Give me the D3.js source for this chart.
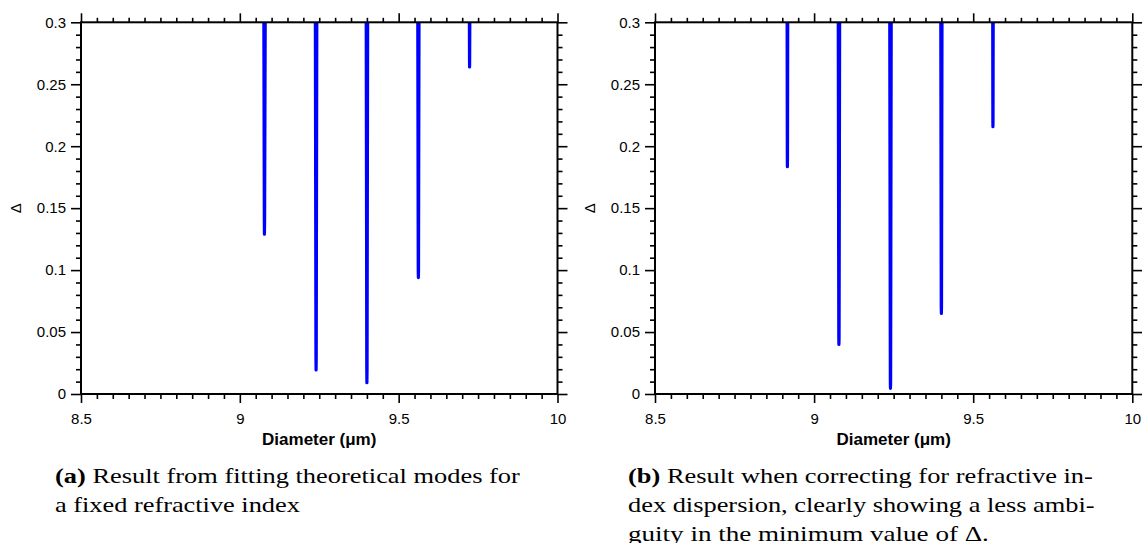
<!DOCTYPE html>
<html><head><meta charset="utf-8">
<script src="https://cdn.jsdelivr.net/npm/d3@7"></script>
<style>body{margin:0;background:#fff} svg{display:block}</style>
</head><body>
<svg id="c" width="1142" height="543"></svg>
<script>
// ---- data ----
const xDomain = [8.5, 10];
const yDomain = [0, 0.3];
const xTicks = [8.5, 9, 9.5, 10];
const xTickLabels = ["8.5", "9", "9.5", "10"];
const yTicks = [0, 0.05, 0.1, 0.15, 0.2, 0.25, 0.3];
const yTickLabels = ["0", "0.05", "0.1", "0.15", "0.2", "0.25", "0.3"];
const xMinorStep = 0.05;
const yMinorStep = 0.01;
const xLabel = "Diameter (\u03bcm)";
const yLabel = "\u0394";

// panel (a): fixed refractive index — [diameter, delta] points per dip
const spikesA = [
  [[9.0755, 0.31], [9.0771, 0.14], [9.0774, 0.129], [9.0780, 0.14], [9.0800, 0.31]],
  [[9.2377, 0.31], [9.2396, 0.03], [9.2400, 0.0194], [9.2405, 0.03], [9.2424, 0.31]],
  [[9.3978, 0.31], [9.3996, 0.02], [9.4000, 0.0091], [9.4005, 0.02], [9.4024, 0.31]],
  [[9.5601, 0.31], [9.5616, 0.10], [9.5620, 0.094], [9.5625, 0.10], [9.5641, 0.31]],
  [[9.7225, 0.31], [9.7230, 0.27], [9.7232, 0.264], [9.7235, 0.27], [9.7241, 0.31]]
];
// panel (b): corrected for refractive index dispersion
const spikesB = [
  [[8.9151, 0.31], [8.9158, 0.19], [8.9160, 0.1835], [8.9164, 0.19], [8.9171, 0.31]],
  [[9.0759, 0.31], [9.0776, 0.045], [9.0780, 0.040], [9.0785, 0.045], [9.0803, 0.31]],
  [[9.2377, 0.31], [9.2396, 0.01], [9.2400, 0.0046], [9.2405, 0.01], [9.2424, 0.31]],
  [[9.3981, 0.31], [9.3996, 0.07], [9.4000, 0.065], [9.4004, 0.07], [9.4020, 0.31]],
  [[9.5613, 0.31], [9.5618, 0.22], [9.5620, 0.2157], [9.5623, 0.22], [9.5629, 0.31]]
];

const captionA = { tag: "(a)", lines: ["Result from fitting theoretical modes for", "a fixed refractive index"] };
const captionB = { tag: "(b)", lines: ["Result when correcting for refractive in-", "dex dispersion, clearly showing a less ambi-", "guity in the minimum value of \u0394."] };

// ---- layout ----
const TOP = 22.3, BOTTOM = 394;
const panels = [
  { left: 81, right: 557.5, spikes: spikesA, cap: captionA, capX: 55, capW: [465, 245], ylabX: 16, id: "a" },
  { left: 655, right: 1132.3, spikes: spikesB, cap: captionB, capX: 628, capW: [465, 467, 361], ylabX: 590, id: "b" }
];
const capY = [482.5, 511.5, 540.5];

const svg = d3.select("#c");
const tickFont = "Liberation Sans, Arial, sans-serif";

function minorVals(dom, step, majors) {
  const n = Math.round((dom[1] - dom[0]) / step);
  const out = [];
  for (let i = 0; i <= n; i++) {
    const v = +(dom[0] + i * step).toFixed(6);
    if (!majors.some(m => Math.abs(m - v) < 1e-9)) out.push(v);
  }
  return out;
}
const xMinor = minorVals(xDomain, xMinorStep, xTicks);
const yMinor = minorVals(yDomain, yMinorStep, yTicks);

function styleAxis(g) {
  g.select(".domain").remove();
  g.selectAll(".tick line").attr("stroke", "#000").attr("stroke-width", 1.6);
  g.selectAll(".tick text").attr("fill", "#000").attr("font-family", tickFont).attr("font-size", 15);
}

panels.forEach(p => {
  const x = d3.scaleLinear().domain(xDomain).range([p.left, p.right]);
  const y = d3.scaleLinear().domain(yDomain).range([BOTTOM, TOP]);
  const g = svg.append("g");

  const xf = d => xTickLabels[xTicks.indexOf(d)];
  const yf = d => yTickLabels[yTicks.indexOf(d)];

  g.append("g").attr("transform", `translate(0,${BOTTOM})`)
    .call(d3.axisBottom(x).tickValues(xTicks).tickSize(9).tickPadding(10).tickFormat(xf)).call(styleAxis);
  g.append("g").attr("transform", `translate(0,${BOTTOM})`)
    .call(d3.axisBottom(x).tickValues(xMinor).tickSize(5).tickFormat("")).call(styleAxis);
  g.append("g").attr("transform", `translate(0,${TOP})`)
    .call(d3.axisTop(x).tickValues(xTicks).tickSize(9).tickFormat("")).call(styleAxis);
  g.append("g").attr("transform", `translate(0,${TOP})`)
    .call(d3.axisTop(x).tickValues(xMinor).tickSize(4.5).tickFormat("")).call(styleAxis);
  g.append("g").attr("transform", `translate(${p.left},0)`)
    .call(d3.axisLeft(y).tickValues(yTicks).tickSize(10).tickPadding(5).tickFormat(yf)).call(styleAxis);
  g.append("g").attr("transform", `translate(${p.left},0)`)
    .call(d3.axisLeft(y).tickValues(yMinor).tickSize(5).tickFormat("")).call(styleAxis);
  g.append("g").attr("transform", `translate(${p.right},0)`)
    .call(d3.axisRight(y).tickValues(yTicks).tickSize(10).tickFormat("")).call(styleAxis);
  g.append("g").attr("transform", `translate(${p.right},0)`)
    .call(d3.axisRight(y).tickValues(yMinor).tickSize(5).tickFormat("")).call(styleAxis);

  const cid = "clip" + p.id;
  svg.append("clipPath").attr("id", cid).append("rect")
    .attr("x", p.left).attr("y", TOP).attr("width", p.right - p.left).attr("height", BOTTOM - TOP);
  const line = d3.line().x(d => x(d[0])).y(d => y(d[1]));
  g.append("g").attr("clip-path", `url(#${cid})`)
    .selectAll("path").data(p.spikes).join("path")
    .attr("d", line).attr("fill", "none").attr("stroke", "#0000ff")
    .attr("stroke-width", 3.2).attr("stroke-linecap", "round").attr("stroke-linejoin", "round");

  g.append("rect").attr("x", p.left).attr("y", TOP).attr("width", p.right - p.left).attr("height", BOTTOM - TOP)
    .attr("fill", "none").attr("stroke", "#000").attr("stroke-width", 2);

  g.append("text").attr("x", (p.left + p.right) / 2).attr("y", 445).attr("text-anchor", "middle")
    .attr("font-family", tickFont).attr("font-weight", "bold").attr("font-size", 17).text(xLabel);
  g.append("text").attr("transform", `translate(${p.ylabX + 5},${(TOP + BOTTOM) / 2}) rotate(-90)`)
    .attr("text-anchor", "middle").attr("font-family", tickFont).attr("font-size", 15).text(yLabel);

  p.cap.lines.forEach((ln, i) => {
    const t = g.append("text").attr("x", 0).attr("y", 0)
      .attr("font-family", "Liberation Serif, Times New Roman, serif").attr("font-size", 22).attr("fill", "#000");
    if (i === 0) {
      t.append("tspan").attr("font-weight", "bold").text(p.cap.tag);
      t.append("tspan").text(" " + ln);
    } else {
      t.text(ln);
    }
    const w = t.node().getComputedTextLength();
    const sx = p.capW[i] / w;
    t.attr("transform", `translate(${p.capX},${capY[i]}) scale(${sx},1)`);
  });
});
</script>
</body></html>
